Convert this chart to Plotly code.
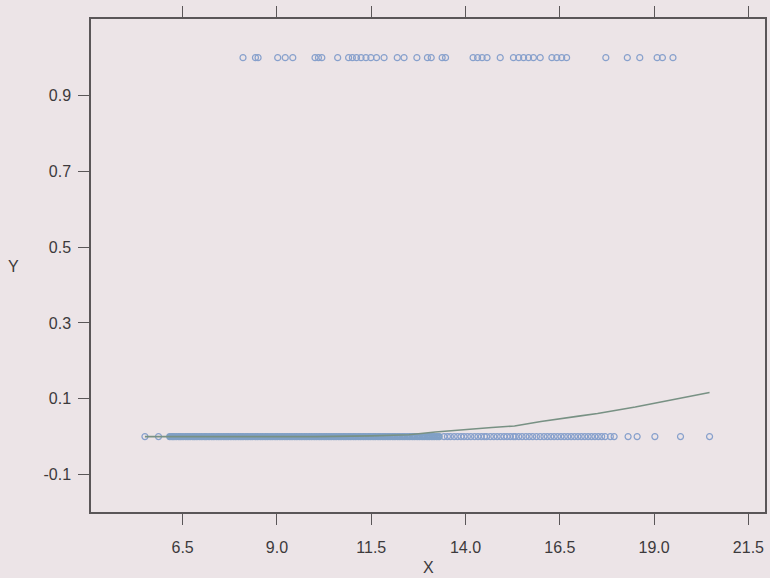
import plotly.graph_objects as go

# Observations with Y = 1
x_one = [8.10, 8.43, 8.50, 9.02, 9.22, 9.42, 10.01, 10.10, 10.19, 10.61,
         10.90, 11.00, 11.11, 11.23, 11.36, 11.49, 11.64, 11.84, 12.19, 12.37,
         12.71, 12.99, 13.09, 13.38, 13.47, 14.20, 14.32, 14.44, 14.57, 14.92,
         15.27, 15.41, 15.54, 15.67, 15.80, 15.98, 16.29, 16.42, 16.55, 16.68,
         17.72, 18.29, 18.62, 19.08, 19.22, 19.50]

# Observations with Y = 0, densely packed low range
x_zero_dense = [
    6.16, 6.22, 6.27, 6.33, 6.40, 6.45, 6.51, 6.58, 6.64, 6.70, 6.77, 6.82,
    6.88, 6.95, 7.01, 7.08, 7.13, 7.20, 7.27, 7.33, 7.40, 7.46, 7.52, 7.59,
    7.65, 7.71, 7.78, 7.85, 7.91, 7.98, 8.04, 8.10, 8.17, 8.23, 8.30, 8.36,
    8.43, 8.49, 8.56, 8.62, 8.69, 8.75, 8.82, 8.88, 8.95, 9.01, 9.08, 9.14,
    9.21, 9.27, 9.34, 9.40, 9.47, 9.53, 9.60, 9.66, 9.73, 9.79, 9.86, 9.92,
    9.99, 10.05, 10.12, 10.18, 10.25, 10.31, 10.38, 10.44, 10.51, 10.57,
    10.64, 10.70, 10.77, 10.83, 10.90, 10.96, 11.03, 11.09, 11.16, 11.22,
    11.29, 11.35, 11.42, 11.48, 11.55, 11.61, 11.68, 11.74, 11.81, 11.87,
    11.94, 12.00, 12.07, 12.13, 12.20, 12.26, 12.33, 12.39, 12.46, 12.52,
    12.59, 12.65, 12.72, 12.78, 12.85, 12.91, 12.98, 13.04, 13.11, 13.17,
    13.24, 13.30]

# Observations with Y = 0, individually visible
x_zero_sparse = [
    5.50, 5.86,
    13.43, 13.52, 13.60, 13.70, 13.79, 13.88, 13.96, 14.05, 14.14, 14.24,
    14.33, 14.42, 14.50, 14.56,
    14.66, 14.75, 14.84, 14.93, 15.02, 15.10, 15.19, 15.27, 15.32,
    15.41, 15.50, 15.60, 15.69, 15.78, 15.88, 15.98,
    16.08, 16.17, 16.26, 16.35, 16.44, 16.53, 16.62, 16.71, 16.80, 16.89,
    16.98, 17.07, 17.16, 17.25, 17.34, 17.43, 17.52, 17.61, 17.70,
    17.84, 17.94, 18.31, 18.55, 19.02, 19.70, 20.47]

# Smoothed fit of Y on X
fit_x = [5.50, 7.00, 8.50, 10.00, 11.50, 12.50, 13.20, 14.00, 14.70, 15.30,
         16.00, 17.00, 17.50, 18.50, 19.50, 20.47]
fit_y = [0.000, 0.000, 0.000, 0.000, 0.002, 0.005, 0.012, 0.019, 0.024, 0.028,
         0.040, 0.054, 0.061, 0.078, 0.097, 0.1165]

x_ticks = [6.5, 9.0, 11.5, 14.0, 16.5, 19.0, 21.5]
y_ticks = [-0.1, 0.1, 0.3, 0.5, 0.7, 0.9]

bg = "rgb(236,228,231)"
marker_col = "rgb(135,160,204)"
band_col = "rgb(128,160,198)"
axis_col = "rgb(90,86,88)"
font = dict(family="Liberation Sans, Arial, sans-serif", size=16, color="rgb(60,58,60)")

fig = go.Figure()
fig.add_trace(go.Scatter(
    x=x_zero_sparse + x_one,
    y=[0] * len(x_zero_sparse) + [1] * len(x_one),
    mode="markers",
    marker=dict(symbol="circle-open", size=6, color=marker_col,
                line=dict(width=1.2, color=marker_col)),
    showlegend=False,
))
fig.add_trace(go.Scatter(
    x=x_zero_dense,
    y=[0] * len(x_zero_dense),
    mode="markers",
    marker=dict(symbol="circle-open", size=5, color=band_col,
                line=dict(width=2.4, color=band_col)),
    showlegend=False,
))
fig.add_trace(go.Scatter(
    x=fit_x, y=fit_y, mode="lines",
    line=dict(color="rgb(120,145,132)", width=1.6),
    showlegend=False,
))

plot_l, plot_r, plot_t, plot_b = 91, 3, 19, 66
plot_w = 770 - plot_l - plot_r
plot_h = 578 - plot_t - plot_b

fig.update_layout(
    width=770, height=578,
    margin=dict(l=plot_l, r=plot_r, t=plot_t, b=plot_b),
    paper_bgcolor=bg, plot_bgcolor=bg,
    font=font,
    xaxis=dict(range=[4.07, 21.94], tickvals=x_ticks,
               ticktext=[f"{v:.1f}" for v in x_ticks],
               showgrid=False, zeroline=False,
               showline=True, linecolor=axis_col, linewidth=1.5, mirror="ticks",
               ticks="outside", ticklen=11, tickcolor=axis_col, tickwidth=1.2,
               ticklabelstandoff=9),
    yaxis=dict(range=[-0.199, 1.102], tickvals=y_ticks,
               ticktext=[f"{v:.1f}" for v in y_ticks],
               showgrid=False, zeroline=False,
               showline=True, linecolor=axis_col, linewidth=1.5, mirror=True,
               ticks="outside", ticklen=11, tickcolor=axis_col, tickwidth=1.2,
               ticklabelstandoff=4),
    annotations=[
        dict(text="X", xref="paper", yref="paper",
             x=0.5, y=(578 - plot_b - 567) / plot_h,
             xanchor="center", yanchor="middle",
             showarrow=False, font=font),
        dict(text="Y", xref="paper", yref="paper",
             x=(13 - plot_l) / plot_w, y=(578 - plot_b - 266) / plot_h,
             xanchor="center", yanchor="middle",
             showarrow=False, font=font),
    ],
)

fig.write_html("out.html")
